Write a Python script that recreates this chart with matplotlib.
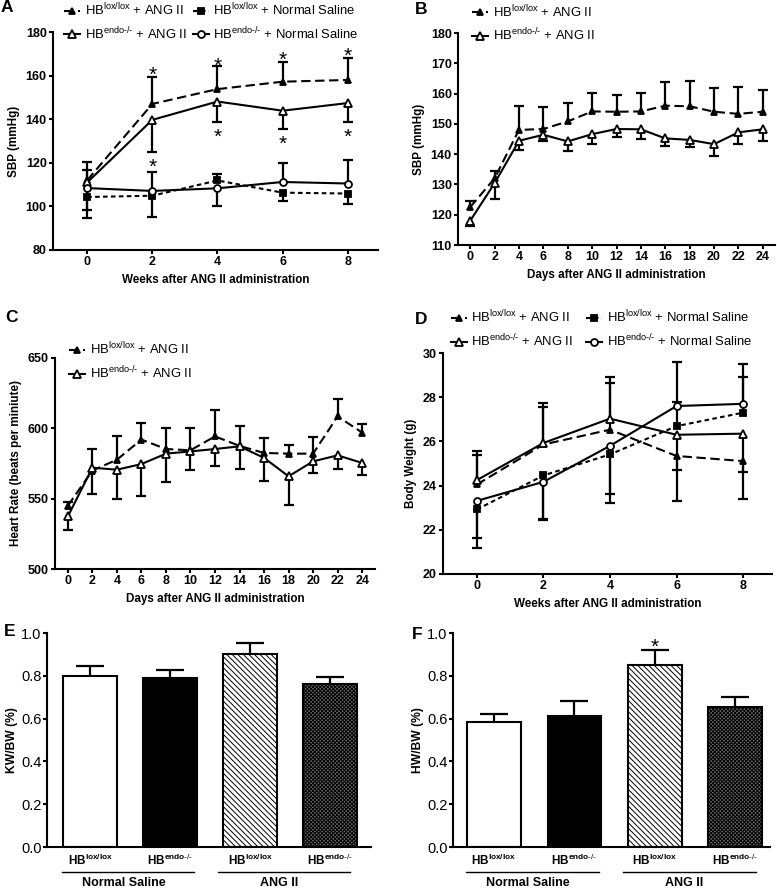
"""
Six-panel figure: SBP / heart rate / body weight time courses and KW/BW, HW/BW bars
for HB lox/lox and HB endo-/- mice given ANG II or normal saline.
"""

import matplotlib.pyplot as plt

plt.rcParams['font.family'] = 'Liberation Sans'
plt.rcParams['mathtext.fontset'] = 'custom'
plt.rcParams['mathtext.rm'] = 'Liberation Sans'
plt.rcParams['mathtext.bf'] = 'Liberation Sans:bold'
plt.rcParams['mathtext.it'] = 'Liberation Sans:italic'
plt.rcParams['hatch.linewidth'] = 0.7

# ---------------- data (error sign = direction of the bar, + up / - down) ----------------
weeks = [0, 2, 4, 6, 8]
days = [0, 2, 4, 6, 8, 10, 12, 14, 16, 18, 20, 22, 24]

# A: SBP (mmHg) by week
sbp_wk_lox_ang = [112.0, 147.0, 153.8, 157.2, 158.0]
sbp_wk_lox_ang_err = [8.5, 12.5, 10.4, 9.0, 10.0]
sbp_wk_endo_ang = [111.0, 139.7, 148.1, 143.9, 147.4]
sbp_wk_endo_ang_err = [5.7, -14.6, -9.5, -8.5, -8.8]
sbp_wk_lox_ns = [104.3, 104.9, 111.9, 106.3, 105.9]
sbp_wk_lox_ns_err = [-9.5, -9.9, 3.0, -4.0, -5.0]
sbp_wk_endo_ns = [108.4, 107.1, 108.3, 111.2, 110.5]
sbp_wk_endo_ns_err = [-10.1, 8.8, -8.0, 8.5, 11.0]
ast_a_x = [2, 4, 6, 8, 2, 4, 6, 8]
ast_a_y = [163.5, 167.6, 170.4, 172.0, 121.2, 134.8, 131.8, 134.8]

# B: SBP (mmHg) by day
sbp_day_lox = [122.5, 132.0, 148.0, 148.3, 150.8, 154.1, 154.0, 154.1, 156.0, 155.8, 154.0, 153.3, 154.0]
sbp_day_lox_err = [2.0, 2.3, 8.0, 7.4, 6.0, 6.0, 5.6, 6.0, 7.7, 8.2, 8.0, 9.0, 7.3]
sbp_day_endo = [118.0, 130.4, 144.4, 146.4, 144.2, 146.6, 148.3, 148.2, 145.2, 144.7, 143.3, 147.2, 148.2]
sbp_day_endo_err = [-1.7, -5.2, -3.0, -2.0, -3.0, -3.2, -2.5, -3.2, -2.5, -2.5, -3.8, -4.0, -4.0]

# C: heart rate (beats per minute) by day
hr_lox = [545.0, 570.0, 577.7, 592.0, 585.3, 584.4, 594.3, 587.5, 582.5, 582.0, 582.0, 608.5, 597.0]
hr_lox_err = [2.7, 15.0, 17.0, 12.0, 15.0, 15.5, 18.5, 14.0, 10.5, 6.4, 11.8, 12.3, 6.1]
hr_endo = [537.4, 572.0, 570.6, 574.6, 582.0, 583.6, 585.3, 587.2, 579.0, 565.9, 576.5, 580.8, 575.4]
hr_endo_err = [-10.0, -18.5, -21.0, -22.5, -20.0, -13.5, -11.8, -16.0, -16.2, -20.2, -8.3, -9.8, -8.8]

# D: body weight (g) by week
bw_lox_ang = [24.05, 25.86, 26.53, 25.34, 25.11]
bw_lox_ang_err = [1.35, 1.70, 2.10, -0.64, -0.50]
bw_endo_ang = [24.25, 25.93, 27.03, 26.30, 26.35]
bw_endo_ang_err = [1.30, 1.80, 1.90, -3.00, -2.96]
bw_lox_ns = [22.92, 24.46, 25.41, 26.69, 27.30]
bw_lox_ns_err = [-1.30, -2.00, -1.80, 1.10, 1.60]
bw_endo_ns = [23.31, 24.17, 25.80, 27.60, 27.70]
bw_endo_ns_err = [-2.15, -1.70, -2.60, 2.00, 1.80]

# E / F: organ weight ratios
bar_groups = ['Normal Saline', 'ANG II']
kw_bw = [0.797, 0.790, 0.902, 0.763]
kw_bw_err = [0.047, 0.039, 0.051, 0.031]
hw_bw = [0.584, 0.611, 0.849, 0.654]
hw_bw_err = [0.039, 0.071, 0.073, 0.048]
ast_f_x = [2]
ast_f_y = [0.965]

LOX = r'HB$^{\mathrm{lox/lox}}$'
ENDO = r'HB$^{\text{endo-/-}}$'
LOX_B = r'HB$^{\mathbf{lox/lox}}$'
ENDO_B = r'HB$^{\mathbf{endo}\text{-/-}}$'
bar_labels = [LOX_B, ENDO_B, LOX_B, ENDO_B]

# series styles
STY = {
    'lox_ang': dict(ls=(0, (4.5, 2.2)), marker='^', ms=4, mfc='black'),
    'endo_ang': dict(ls='-', marker='^', ms=5.2, mfc='white'),
    'lox_ns': dict(ls=(0, (2.2, 1.6)), marker='s', ms=4.2, mfc='black'),
    'endo_ns': dict(ls='-', marker='o', ms=5, mfc='white'),
}

W, H = 777, 888
TICK_FS = 9
LAB_FS = 8.4
LEG_FS = 9.4


def rect(l, t, r, b):
    return [l / W, 1 - b / H, (r - l) / W, (b - t) / H]


def style_axes(ax):
    for s in ['top', 'right']:
        ax.spines[s].set_visible(False)
    for s in ['left', 'bottom']:
        ax.spines[s].set_linewidth(1.5)
    ax.tick_params(width=1.5, length=3, pad=1.5, labelsize=TICK_FS)
    for lab in ax.get_xticklabels() + ax.get_yticklabels():
        lab.set_fontweight('bold')


def plot_series(ax, x, y, err, key, label):
    tips = [v + e for v, e in zip(y, err)]
    ax.vlines(x, y, tips, color='black', lw=1.6, zorder=2)
    ax.plot(x, tips, ls='none', marker='_', ms=7, mew=1.6, color='black', zorder=2)
    st = STY[key]
    ax.plot(x, y, color='black', lw=1.5, ls=st['ls'], marker=st['marker'], ms=st['ms'],
            mfc=st['mfc'], mec='black', mew=1.3, zorder=3, label=label)


def legend(ax, anchor, ncol, colspacing=1.2):
    ax.legend(loc='upper left', bbox_to_anchor=anchor, ncol=ncol, frameon=False,
              fontsize=LEG_FS, handlelength=1.2, handletextpad=0.35,
              columnspacing=colspacing, labelspacing=0.55, borderpad=0, borderaxespad=0)


def stars(ax, xs, ys, fs=15):
    for x, y in zip(xs, ys):
        ax.annotate('*', (x, y), xytext=(0, -5), textcoords='offset points',
                    ha='center', va='center', fontsize=fs)


fig = plt.figure(figsize=(W / 100, H / 100), dpi=100)

# ---- A ----
ax = fig.add_axes(rect(53, 32, 378, 250))
plot_series(ax, weeks, sbp_wk_lox_ang, sbp_wk_lox_ang_err, 'lox_ang', LOX + ' + ANG II')
plot_series(ax, weeks, sbp_wk_endo_ang, sbp_wk_endo_ang_err, 'endo_ang', ENDO + ' + ANG II')
plot_series(ax, weeks, sbp_wk_lox_ns, sbp_wk_lox_ns_err, 'lox_ns', LOX + ' + Normal Saline')
plot_series(ax, weeks, sbp_wk_endo_ns, sbp_wk_endo_ns_err, 'endo_ns', ENDO + ' + Normal Saline')
stars(ax, ast_a_x, ast_a_y)
ax.set_xlim(-1.05, 8.93)
ax.set_ylim(80, 180)
ax.set_xticks(weeks)
ax.set_yticks([80, 100, 120, 140, 160, 180])
ax.set_xlabel('Weeks after ANG II administration', fontsize=LAB_FS, fontweight='bold')
ax.set_ylabel('SBP (mmHg)', fontsize=LAB_FS, fontweight='bold')
style_axes(ax)
legend(ax, (0.035, 1.14), 2, colspacing=0.5)

# ---- B ----
ax = fig.add_axes(rect(458, 33, 775, 245))
plot_series(ax, days, sbp_day_lox, sbp_day_lox_err, 'lox_ang', LOX + ' + ANG II')
plot_series(ax, days, sbp_day_endo, sbp_day_endo_err, 'endo_ang', ENDO + ' + ANG II')
ax.set_xlim(-1, 25)
ax.set_ylim(110, 180)
ax.set_xticks(days)
ax.set_yticks(range(110, 181, 10))
ax.set_xlabel('Days after ANG II administration', fontsize=LAB_FS, fontweight='bold')
ax.set_ylabel('SBP (mmHg)', fontsize=LAB_FS, fontweight='bold')
style_axes(ax)
legend(ax, (0.045, 1.14), 1)

# ---- C ----
ax = fig.add_axes(rect(55, 358, 375, 569))
plot_series(ax, days, hr_lox, hr_lox_err, 'lox_ang', LOX + ' + ANG II')
plot_series(ax, days, hr_endo, hr_endo_err, 'endo_ang', ENDO + ' + ANG II')
ax.set_xlim(-1.05, 25.05)
ax.set_ylim(500, 650)
ax.set_xticks(days)
ax.set_yticks([500, 550, 600, 650])
ax.set_xlabel('Days after ANG II administration', fontsize=LAB_FS, fontweight='bold')
ax.set_ylabel('Heart Rate (beats per miniute)', fontsize=LAB_FS, fontweight='bold')
style_axes(ax)
legend(ax, (0.045, 1.08), 1)

# ---- D ----
ax = fig.add_axes(rect(443, 353, 772, 574))
plot_series(ax, weeks, bw_lox_ang, bw_lox_ang_err, 'lox_ang', LOX + ' + ANG II')
plot_series(ax, weeks, bw_endo_ang, bw_endo_ang_err, 'endo_ang', ENDO + ' + ANG II')
plot_series(ax, weeks, bw_lox_ns, bw_lox_ns_err, 'lox_ns', LOX + ' + Normal Saline')
plot_series(ax, weeks, bw_endo_ns, bw_endo_ns_err, 'endo_ns', ENDO + ' + Normal Saline')
ax.set_xlim(-1.02, 8.87)
ax.set_ylim(20, 30)
ax.set_xticks(weeks)
ax.set_yticks(range(20, 31, 2))
ax.set_xlabel('Weeks after ANG II administration', fontsize=LAB_FS, fontweight='bold')
ax.set_ylabel('Body Weight (g)', fontsize=LAB_FS, fontweight='bold')
style_axes(ax)
legend(ax, (0.025, 1.2), 2, colspacing=1.0)


# ---- E / F bars ----
def bar_panel(ax, vals, errs, ylabel, xlim):
    xs = list(range(len(vals)))
    faces = ['white', 'black', 'white', '#6a6a6a']
    hatches = [None, None, '\\\\\\\\\\\\', 'xxxxxxxxx']
    for x, v, e, fc, h in zip(xs, vals, errs, faces, hatches):
        ax.bar(x, v, width=0.67, color=fc, edgecolor='black', linewidth=1.5, hatch=h, zorder=2)
        ax.vlines(x, v, v + e, color='black', lw=1.6, zorder=1)
        ax.plot([x], [v + e], marker='_', ms=20, mew=1.6, color='black', ls='none')
    ax.set_xlim(*xlim)
    ax.set_ylim(0, 1.0)
    ax.set_yticks([0, 0.2, 0.4, 0.6, 0.8, 1.0])
    ax.set_yticklabels(['%.1f' % t for t in [0, 0.2, 0.4, 0.6, 0.8, 1.0]])
    ax.set_xticks(xs)
    ax.set_xticklabels(bar_labels, fontsize=8.5, fontweight='bold')
    ax.set_ylabel(ylabel, fontsize=LAB_FS + 0.3, fontweight='bold', labelpad=2)
    for s in ['top', 'right']:
        ax.spines[s].set_visible(False)
    for s in ['left', 'bottom']:
        ax.spines[s].set_linewidth(1.5)
    ax.tick_params(axis='y', width=1.5, length=3, pad=1, labelsize=10.5)
    ax.tick_params(axis='x', length=0, pad=4)
    # group underlines and names
    tr = ax.get_xaxis_transform()
    spans = [(-0.35, 1.3), (1.6, 3.25)]
    for (a, b), name in zip(spans, bar_groups):
        ax.plot([a, b], [-0.117, -0.117], color='black', lw=1.0, transform=tr, clip_on=False)
        ax.text((a + b) / 2 - 0.06, -0.168, name, transform=tr, ha='center', va='center',
                fontsize=9, fontweight='bold')


ax = fig.add_axes(rect(47, 633, 371, 847))
bar_panel(ax, kw_bw, kw_bw_err, 'KW/BW (%)', (-0.54, 3.51))

ax = fig.add_axes(rect(453, 633, 770, 847))
bar_panel(ax, hw_bw, hw_bw_err, 'HW/BW (%)', (-0.51, 3.43))
stars(ax, ast_f_x, ast_f_y, fs=15)

# panel letters
for letter, (px, py) in zip('ABCDEF', [(7, 8), (421, 9), (12, 317), (421, 320), (10, 631), (417, 634)]):
    fig.text(px / W, 1 - py / H, letter, ha='center', va='center', fontsize=12.5, fontweight='bold')

plt.savefig('out.png', dpi=100)
